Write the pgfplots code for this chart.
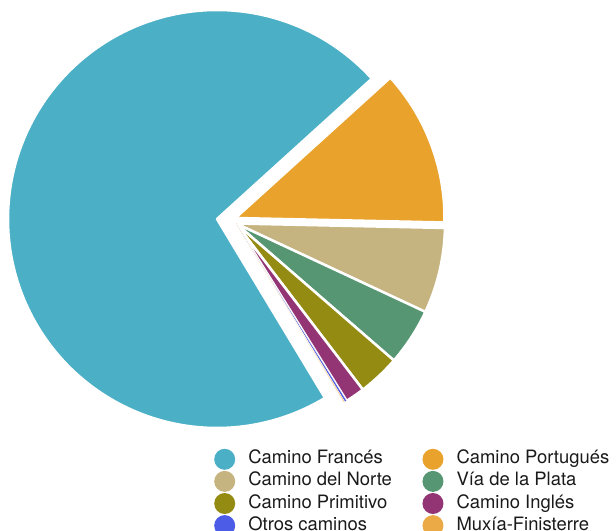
\documentclass[border=0pt]{standalone}
\usepackage{fontspec}
\setmainfont{TeX Gyre Heros}
\usepackage{pgfplots}
\pgfplotsset{compat=1.18}
\definecolor{cFr}{HTML}{4BB0C6}
\definecolor{cPo}{HTML}{E9A22B}
\definecolor{cNo}{HTML}{C6B480}
\definecolor{cPl}{HTML}{569673}
\definecolor{cPr}{HTML}{948B12}
\definecolor{cIn}{HTML}{933474}
\definecolor{cOt}{HTML}{4D5CE6}
\definecolor{cMu}{HTML}{ECAA46}
\definecolor{txt}{HTML}{1A1A1A}
% shares in percent (clockwise from Camino Francés)
\pgfmathsetmacro\aA{301.1}
\pgfmathsetmacro\aB{\aA-3.6*71.92}
\pgfmathsetmacro\aC{\aB-3.6*12.06}
\pgfmathsetmacro\aD{\aC-3.6*6.61}
\pgfmathsetmacro\aE{\aD-3.6*4.42}
\pgfmathsetmacro\aF{\aE-3.6*3.25}
\pgfmathsetmacro\aG{\aF-3.6*1.50}
\pgfmathsetmacro\aH{\aG-3.6*0.16}
\pgfmathsetmacro\aI{\aH-3.6*0.08}
\begin{document}
\begin{tikzpicture}
\begin{axis}[
  at={(0,0)}, anchor=south west,
  scale only axis, width=616bp, height=531bp,
  xmin=0, xmax=616, ymin=-531, ymax=0,
  hide axis, clip=false, no markers,
  legend columns=2,
  legend cell align=left,
  legend image code/.code={\fill[#1,draw=none] (0bp,0bp) circle (10.5bp);},
  legend style={at={(axis cs:214.2,-448.8)}, anchor=north west,
    draw=none, fill=none, inner sep=0pt, outer sep=0pt,
    font=\fontsize{18.5}{20}\selectfont\color{txt},
    nodes={inner sep=0pt, text height=13bp, text depth=4bp},
    row sep=1.1bp,
    /tikz/every odd column/.append style={column sep=13.1bp},
    /tikz/every even column/.append style={column sep=30.5bp}},
]
\addplot[fill=cFr, draw=white, line width=2.5bp, line join=round, domain=\aB:\aA, samples=220, variable=\t]
  ({217+209*cos(\t)},{-219+209*sin(\t)}) -- (axis cs:217,-219) -- cycle;
\addlegendentry{Camino Francés}
\addplot[fill=cPo, draw=white, line width=2.5bp, line join=round, domain=\aC:\aB, samples=60, variable=\t]
  ({235.5+209*cos(\t)},{-218+209*sin(\t)}) -- (axis cs:235.5,-218) -- cycle;
\addlegendentry{Camino Portugués}
\addplot[fill=cNo, draw=white, line width=2.5bp, line join=round, domain=\aD:\aC, samples=40, variable=\t]
  ({236+209*cos(\t)},{-223.5+209*sin(\t)}) -- (axis cs:236,-223.5) -- cycle;
\addlegendentry{Camino del Norte}
\addplot[fill=cPl, draw=white, line width=2.5bp, line join=round, domain=\aE:\aD, samples=30, variable=\t]
  ({236+209*cos(\t)},{-223.5+209*sin(\t)}) -- (axis cs:236,-223.5) -- cycle;
\addlegendentry{Vía de la Plata}
\addplot[fill=cPr, draw=white, line width=2.5bp, line join=round, domain=\aF:\aE, samples=20, variable=\t]
  ({236+209*cos(\t)},{-223.5+209*sin(\t)}) -- (axis cs:236,-223.5) -- cycle;
\addlegendentry{Camino Primitivo}
\addplot[fill=cIn, draw=white, line width=2.5bp, line join=round, domain=\aG:\aF, samples=12, variable=\t]
  ({236+209*cos(\t)},{-223.5+209*sin(\t)}) -- (axis cs:236,-223.5) -- cycle;
\addlegendentry{Camino Inglés}
\addplot[fill=cOt, draw=white, line width=0.3bp, line join=round, domain=\aH:\aG, samples=4, variable=\t]
  ({236+209*cos(\t)},{-223.5+209*sin(\t)}) -- (axis cs:236,-223.5) -- cycle;
\addlegendentry{Otros caminos}
\addplot[fill=cMu, draw=white, line width=0.3bp, line join=round, domain=\aI:\aH, samples=4, variable=\t]
  ({236+209*cos(\t)},{-223.5+209*sin(\t)}) -- (axis cs:236,-223.5) -- cycle;
\addlegendentry{Muxía-Finisterre}
\end{axis}
\pgfresetboundingbox
\path (0,0) rectangle (616bp,531bp);
\end{tikzpicture}
\end{document}
